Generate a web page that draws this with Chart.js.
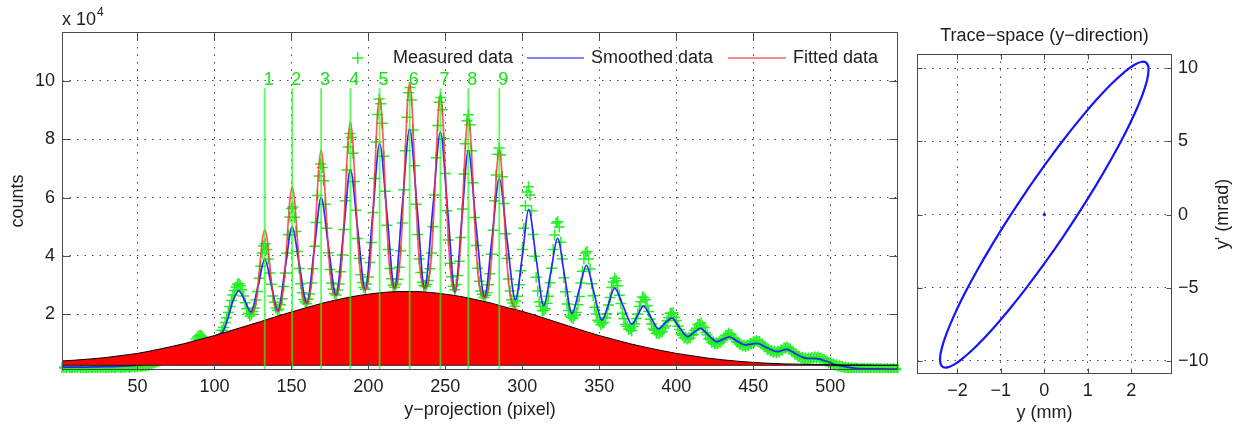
<!DOCTYPE html>
<html><head><meta charset="utf-8">
<script src="https://cdn.jsdelivr.net/npm/chart.js@4.4.1/dist/chart.umd.min.js"></script>
<style>
html,body{margin:0;padding:0;background:#fff;width:1250px;height:428px;overflow:hidden}
#c1{position:absolute;left:0;top:0}
#c2{position:absolute;left:905px;top:0}
</style></head><body>
<canvas id="c1" width="905" height="428"></canvas>
<canvas id="c2" width="345" height="428"></canvas>
<script>
// ---------------- DATA (left panel: y-projection, counts in units of 1e4) ----------------
const measuredStart = 1; // first pixel of the measured projection
const measured = [
 // 1-57
 0.17,0.19,0.16,0.18,0.2,0.17,0.15,0.18,0.19,0.16,
 0.18,0.2,0.17,0.16,0.19,0.18,0.15,0.17,0.2,0.18,
 0.16,0.19,0.17,0.18,0.2,0.16,0.18,0.19,0.17,0.15,
 0.18,0.2,0.17,0.19,0.16,0.18,0.2,0.19,0.17,0.18,
 0.2,0.18,0.21,0.19,0.17,0.2,0.22,0.19,0.21,0.2,
 0.23,0.21,0.22,0.24,0.23,0.25,0.24,
 // 58-87
 0.27,0.3,0.32,0.34,0.36,0.38,0.4,0.42,0.44,0.47,
 0.5,0.52,0.55,0.57,0.6,0.62,0.64,0.66,0.68,0.7,
 0.72,0.74,0.76,0.78,0.8,0.82,0.84,0.86,0.9,0.95,
 // 88-104
 1.15,1.22,1.27,1.28,1.24,1.18,1.06,1.0,0.98,1.0,1.03,1.06,1.08,1.1,1.13,1.17,1.28,
 // 105-123
 1.45,1.55,1.72,1.88,2.06,2.27,2.47,2.66,2.82,2.94,3.03,3.06,2.98,2.84,2.63,2.4,2.19,2.03,1.94,
 // 124-141
 2.0,2.1,2.22,2.49,2.78,3.24,3.65,4.1,4.34,4.42,4.22,3.9,3.42,3.03,2.63,2.41,2.22,2.13,
 // 142-160
 2.18,2.33,2.53,2.95,3.42,4.1,4.73,5.34,5.63,5.68,5.33,4.84,4.15,3.57,3.05,2.74,2.5,2.42,2.36,
 // 161-179
 2.52,2.7,3.07,3.56,4.33,5.15,6.07,6.74,7.15,7.03,6.58,5.77,4.95,4.11,3.54,3.07,2.86,2.71,2.66,
 // 180-198
 2.83,3.04,3.46,4.03,4.91,5.89,6.95,7.74,8.2,8.06,7.52,6.55,5.57,4.6,3.91,3.36,3.09,2.92,2.86,
 // 199-217
 3.04,3.28,3.78,4.46,5.49,6.66,7.91,8.85,9.38,9.22,8.55,7.42,6.22,5.05,4.22,3.57,3.22,3.0,2.93,
 // 218-236
 3.03,3.2,3.61,4.18,5.13,6.27,7.61,8.76,9.6,9.78,9.35,8.32,7.09,5.77,4.74,3.9,3.43,3.1,2.98,
 // 237-256
 2.95,3.02,3.16,3.56,4.1,5.0,6.09,7.37,8.47,9.27,9.43,9.01,8.02,6.83,5.55,4.55,3.75,3.29,2.96,2.84,
 // 257-275
 3.02,3.33,3.82,4.63,5.61,6.81,7.85,8.64,8.84,8.5,7.61,6.51,5.32,4.36,3.58,3.13,2.8,2.69,2.58,
 // 276-295
 2.65,2.74,3.01,3.39,4.06,4.88,5.89,6.78,7.49,7.7,7.46,6.72,5.8,4.76,3.91,3.21,2.8,2.5,2.39,2.28,
 // 296-313
 2.46,2.62,3.01,3.49,4.22,4.95,5.72,6.19,6.37,6.09,5.55,4.74,3.99,3.27,2.8,2.43,2.27,2.12,
 // 314-332
 2.14,2.19,2.38,2.62,3.08,3.58,4.22,4.72,5.13,5.17,4.99,4.47,3.9,3.25,2.77,2.35,2.13,1.94,1.9,
 // 333-351
 1.86,1.96,2.06,2.33,2.61,3.07,3.48,3.9,4.1,4.15,3.9,3.55,3.05,2.64,2.24,2.01,1.8,1.74,1.64,
 // 352-371
 1.7,1.72,1.88,2.02,2.32,2.58,2.92,3.11,3.24,3.15,2.98,2.65,2.37,2.04,1.85,1.65,1.59,1.49,1.5,1.44,
 // 372-388
 1.58,1.67,1.86,2.01,2.27,2.43,2.59,2.57,2.5,2.29,2.1,1.83,1.67,1.5,1.45,1.35,1.36,
 // 389-407
 1.33,1.39,1.4,1.53,1.6,1.78,1.88,2.04,2.04,2.05,1.9,1.79,1.59,1.48,1.33,1.28,1.19,1.21,1.15,
 // 408-426
 1.2,1.19,1.28,1.31,1.45,1.52,1.65,1.66,1.7,1.6,1.54,1.38,1.3,1.16,1.13,1.04,1.06,1.0,1.02,
 // 427-444
 1.0,1.06,1.05,1.13,1.16,1.27,1.27,1.35,1.3,1.3,1.2,1.17,1.06,1.04,0.97,0.97,0.92,0.94,
 // 445-465
 0.9,0.95,0.93,1.0,0.99,1.06,1.05,1.1,1.06,1.07,0.99,0.98,0.89,0.88,0.8,0.81,0.74,0.76,0.7,0.73,0.68,
 // 466-485
 0.73,0.71,0.78,0.78,0.85,0.84,0.88,0.82,0.82,0.73,0.72,0.63,0.63,0.55,0.56,0.5,0.52,0.47,0.5,0.46,
 // 486-510
 0.5,0.47,0.52,0.49,0.54,0.5,0.54,0.49,0.5,0.45,0.46,0.4,0.4,0.34,0.35,0.29,0.3,0.25,0.27,0.22,0.24,0.2,0.21,0.17,0.19,
 // 511-544
 0.16,0.18,0.14,0.17,0.13,0.16,0.14,0.15,0.12,0.15,
 0.13,0.15,0.12,0.14,0.13,0.15,0.12,0.14,0.11,0.14,
 0.13,0.12,0.14,0.11,0.13,0.12,0.14,0.11,0.13,0.12,
 0.14,0.12,0.11,0.13
];

// smoothed curve: [pixel, counts]
const smoothed = [
 [1,0.19],[12,0.19],[25,0.2],[40,0.22],[55,0.3],[70,0.55],[85,0.95],[95,1.15],[103,1.3],[106,1.46],[109,1.9],[112,2.45],
 [115.8,2.8],[119.5,2.5],[123.7,2.08],[128.5,3.0],[132.7,3.88],[137,3.0],[141.2,2.12],[146,3.6],[150.5,5.0],[155,3.75],
 [160,2.38],[165,4.3],[169.3,6.0],[174,4.35],[179,2.66],[184,4.9],[188.3,6.95],[193,4.95],[198,2.83],[202.8,5.4],
 [207.3,7.85],[212,5.5],[217,2.89],[222,5.7],[226.8,8.35],[231.6,5.7],[236.5,2.89],[241.8,5.6],[246.8,8.25],[251.6,5.5],
 [256.3,2.75],[260.6,5.2],[264.9,7.62],[270,5.0],[275.5,2.6],[280.3,4.6],[285,6.65],[290.2,4.5],[295.5,2.5],[300,4.0],
 [304.1,5.6],[309,3.9],[313.9,2.3],[318.5,3.45],[322.9,4.6],[327.5,3.3],[332.2,2.03],[337,2.85],[341.6,3.68],[346.5,2.75],
 [351.7,1.8],[356,2.35],[359.9,2.9],[365.5,2.28],[371.2,1.66],[375,1.98],[378.6,2.28],[383.5,1.9],[388.5,1.5],[393,1.72],
 [397.2,1.87],[402,1.55],[407.5,1.23],[411.5,1.38],[415.6,1.52],[421,1.28],[426.4,1.06],[430.5,1.15],[434.5,1.23],
 [439.5,1.08],[444.8,0.95],[448.5,0.98],[452.4,1.0],[459,0.85],[465.4,0.72],[471.9,0.8],[478,0.63],[485,0.49],[491,0.48],
 [498,0.38],[504,0.26],[510,0.2],[517,0.15],[530,0.13],[544,0.12]
];

// fitted multi-peak curve: [pixel, counts]
const fitted = [
 [123,2.0],[125.2,2.1],[126.7,2.3],[128.2,2.95],[129.7,3.8],[131.2,4.58],[132.7,4.9],[134.2,4.6],[135.7,3.85],[137.2,3.02],[138.7,2.42],[140.2,2.14],[141.5,2.1],
 [143,2.29],[144.5,2.76],[146,3.63],[147.5,4.82],[149,5.91],[150.5,6.37],[152,5.94],[153.5,4.89],[155,3.74],[156.5,2.91],[158,2.47],[160,2.36],
 [161.8,2.62],[163.3,3.19],[164.8,4.26],[166.3,5.71],[167.8,7.05],[169.3,7.62],[170.8,7.08],[172.3,5.78],[173.8,4.37],[175.3,3.34],[176.8,2.8],[179,2.64],
 [180.8,2.9],[182.3,3.56],[183.8,4.78],[185.3,6.43],[186.8,7.96],[188.3,8.59],[189.8,7.98],[191.3,6.48],[192.8,4.86],[194.3,3.67],[195.8,3.04],[198,2.84],
 [199.8,3.12],[201.3,3.85],[202.8,5.21],[204.3,7.04],[205.8,8.74],[207.3,9.45],[208.8,8.76],[210.3,7.07],[211.8,5.26],[213.3,3.91],[214.8,3.2],[217,2.89],
 [219.3,3.24],[220.8,4.01],[222.3,5.44],[223.8,7.38],[225.3,9.19],[226.8,9.93],[228.3,9.19],[229.8,7.38],[231.3,5.44],[232.8,4.0],[234.3,3.23],[236.5,2.89],
 [239.3,3.19],[240.8,3.91],[242.3,5.27],[243.8,7.11],[245.3,8.83],[246.8,9.53],[248.3,8.81],[249.8,7.08],[251.3,5.22],[252.8,3.84],[254.3,3.1],[256.3,2.74],
 [257.4,3.03],[258.9,3.68],[260.4,4.9],[261.9,6.58],[263.4,8.12],[264.9,8.75],[266.4,8.1],[267.9,6.52],[269.4,4.82],[270.9,3.56],[272.4,2.88],[275.5,2.56],
 [277.5,2.75],[279,3.3],[280.5,4.34],[282,5.76],[283.5,7.07],[285,7.6],[286.5,7.03],[288,5.68],[289.5,4.22],[291,3.14],[292.5,2.55],[294,2.31],[296,2.18],[297,2.14]
];

// broad background component (red area): [pixel, counts]
const background = [
 [1,0.4],[10,0.43],[20,0.47],[30,0.52],[40,0.59],[50,0.66],[60,0.76],[70,0.87],[80,0.99],[90,1.13],[100,1.27],[110,1.43],
 [120,1.59],[130,1.75],[140,1.92],[150,2.08],[160,2.23],[170,2.38],[180,2.5],[190,2.61],[200,2.69],[210,2.75],[220,2.78],
 [230,2.78],[240,2.75],[250,2.69],[260,2.61],[270,2.5],[280,2.38],[290,2.23],[300,2.1],[310,1.94],[320,1.77],[330,1.6],
 [340,1.43],[350,1.27],[360,1.13],[370,0.99],[380,0.87],[390,0.76],[400,0.66],[410,0.58],[420,0.5],[430,0.44],[440,0.39],
 [450,0.35],[460,0.32],[470,0.3],[480,0.29],[490,0.28],[500,0.27],[510,0.26],[520,0.26],[530,0.25],[544,0.25]
];
const backgroundBase = 0.25;

const peakPos    = [132.7,150.5,169.3,188.3,207.3,226.8,246.8,264.9,285];
const peakLabels = ['1','2','3','4','5','6','7','8','9'];
const peakLineTop = 9.75;
const peakLabelY  = 10.05;

const xTicksLeft = [50,100,150,200,250,300,350,400,450,500];
const yTicksLeft = [2,4,6,8,10];
const xRangeLeft = [1, 544];
const yRangeLeft = [0.09, 11.68];

// ---------------- DATA (right panel: trace space ellipse) ----------------
const ellipseY  = [0,-0.417,-0.821,-1.2,-1.543,-1.839,-2.078,-2.255,-2.364,-2.4,-2.364,-2.255,-2.078,-1.839,-1.543,-1.2,-0.821,-0.417,
                   0,0.417,0.821,1.2,1.543,1.839,2.078,2.255,2.364,2.4,2.364,2.255,2.078,1.839,1.543,1.2,0.821,0.417,0];
const ellipseYp = [3.35,1.58,-0.24,-2.05,-3.8,-5.43,-6.9,-8.16,-9.17,-9.9,-10.33,-10.45,-10.25,-9.73,-8.93,-7.85,-6.53,-5.02,
                   -3.35,-1.58,0.24,2.05,3.8,5.43,6.9,8.16,9.17,9.9,10.33,10.45,10.25,9.73,8.93,7.85,6.53,5.02,3.35];
const centreY = [0], centreYp = [0];
const xTicksRight = [-2,-1,0,1,2];
const yTicksRight = [-10,-5,0,5,10];
const xRangeRight = [-2.93, 2.94];
const yRangeRight = [-10.89, 10.98];

// ---------------- STYLE ----------------
const FONT = "'Liberation Sans', Arial, Helvetica, sans-serif";
const TXT = '#1e1e1e';
const GREEN = '#22f022';
const BLUE = 'rgba(30,30,255,0.95)';
const RED = 'rgba(255,50,50,0.8)';
const GRID = { color: 'rgba(40,40,40,0.85)', lineWidth: 1, drawTicks: false };
const BORDER = { display: false, dash: [1.5, 6] };
const minusFmt = v => String(v).replace('-', '\u2212');
const toPts = arr => arr.map(p => ({ x: p[0], y: p[1] }));

function drawFrame(chart, tickLen) {
  const { ctx, chartArea: a, scales } = chart;
  ctx.save();
  ctx.strokeStyle = '#4a4a4a';
  ctx.lineWidth = 1;
  const L = Math.round(a.left) + 0.5, R = Math.round(a.right) - 0.5, T = Math.round(a.top) + 0.5, B = Math.round(a.bottom) - 0.5;
  ctx.strokeRect(L, T, R - L, B - T);
  ctx.beginPath();
  scales.x.ticks.forEach(t => {
    const px = Math.round(scales.x.getPixelForValue(t.value)) + 0.5;
    ctx.moveTo(px, B); ctx.lineTo(px, B - tickLen);
    ctx.moveTo(px, T); ctx.lineTo(px, T + tickLen);
  });
  scales.y.ticks.forEach(t => {
    const py = Math.round(scales.y.getPixelForValue(t.value)) + 0.5;
    ctx.moveTo(L, py); ctx.lineTo(L + tickLen, py);
    ctx.moveTo(R, py); ctx.lineTo(R - tickLen, py);
  });
  ctx.stroke();
  ctx.restore();
}

// ---------------- LEFT CHART ----------------
const leftDeco = {
  id: 'leftDeco',
  afterDraw(chart) {
    const { ctx, chartArea: a, scales } = chart;
    drawFrame(chart, 8);
    ctx.save();
    ctx.fillStyle = TXT;
    ctx.font = '18px ' + FONT;
    // y title
    ctx.save();
    ctx.translate(18, (a.top + a.bottom) / 2);
    ctx.rotate(-Math.PI / 2);
    ctx.textAlign = 'center'; ctx.textBaseline = 'middle';
    ctx.fillText('counts', 0, 0);
    ctx.restore();
    // x title
    ctx.textAlign = 'center'; ctx.textBaseline = 'middle';
    ctx.fillText('y\u2212projection (pixel)', (a.left + a.right) / 2, 410);
    // exponent label
    ctx.textAlign = 'left'; ctx.textBaseline = 'alphabetic';
    ctx.fillText('x 10', 62, 25);
    const w = ctx.measureText('x 10').width;
    ctx.font = '12px ' + FONT;
    ctx.fillText('4', 62 + w + 1, 16);
    // peak numbers
    ctx.font = '18px ' + FONT;
    ctx.fillStyle = '#12e812';
    ctx.textAlign = 'left'; ctx.textBaseline = 'middle';
    peakPos.forEach((p, i) => {
      ctx.fillText(peakLabels[i], scales.x.getPixelForValue(p) - 1, scales.y.getPixelForValue(peakLabelY));
    });
    // legend
    const ly = 58;
    ctx.strokeStyle = GREEN; ctx.lineWidth = 1.5;
    ctx.beginPath();
    ctx.moveTo(352, ly); ctx.lineTo(363.5, ly);
    ctx.moveTo(357.7, ly - 5.7); ctx.lineTo(357.7, ly + 5.7);
    ctx.stroke();
    ctx.fillStyle = TXT;
    ctx.fillText('Measured data', 393, ly);
    ctx.strokeStyle = 'rgba(70,70,255,0.9)'; ctx.lineWidth = 1.6;
    ctx.beginPath(); ctx.moveTo(527, ly); ctx.lineTo(584, ly); ctx.stroke();
    ctx.fillText('Smoothed data', 591, ly);
    ctx.strokeStyle = 'rgba(255,80,80,0.9)'; ctx.lineWidth = 1.6;
    ctx.beginPath(); ctx.moveTo(728, ly); ctx.lineTo(786, ly); ctx.stroke();
    ctx.fillText('Fitted data', 793, ly);
    ctx.restore();
  }
};

const peakLineSets = peakPos.map(p => ({
  data: [{ x: p, y: yRangeLeft[0] }, { x: p, y: peakLineTop }],
  showLine: true, borderColor: 'rgba(20,255,20,0.7)', borderWidth: 1.8,
  pointRadius: 0, order: 2
}));

new Chart(document.getElementById('c1'), {
  type: 'scatter',
  data: {
    datasets: [
      { label: 'Measured data', data: measured.map((v, i) => ({ x: measuredStart + i, y: v })),
        pointStyle: 'cross', pointRadius: 5.5, pointBorderWidth: 1.5, clip: 3,
        pointBorderColor: GREEN, borderColor: GREEN, backgroundColor: GREEN, showLine: false, order: 10 },
      { label: 'Smoothed data', data: toPts(smoothed), showLine: true, borderColor: BLUE, borderWidth: 1.7,
        pointRadius: 0, cubicInterpolationMode: 'monotone', order: 9 },
      { label: 'Background', data: toPts(background), showLine: true, borderColor: '#000', borderWidth: 1,
        backgroundColor: '#ff0000', fill: { value: backgroundBase }, pointRadius: 0,
        cubicInterpolationMode: 'monotone', order: 8 },
      { label: 'Base', data: [{ x: xRangeLeft[0], y: backgroundBase }, { x: xRangeLeft[1], y: backgroundBase }],
        showLine: true, borderColor: 'rgba(0,0,0,0.8)', borderWidth: 1, pointRadius: 0, order: 7 },
      { label: 'Fitted data', data: toPts(fitted), showLine: true, borderColor: RED, borderWidth: 1.7,
        pointRadius: 0, cubicInterpolationMode: 'monotone', order: 6 },
      ...peakLineSets
    ]
  },
  options: {
    responsive: false, animation: false, devicePixelRatio: 1,
    layout: { padding: { top: 32, right: 7, left: 0, bottom: 0 } },
    plugins: { legend: { display: false }, tooltip: { enabled: false } },
    scales: {
      x: {
        type: 'linear', min: xRangeLeft[0], max: xRangeLeft[1],
        afterBuildTicks: s => { s.ticks = xTicksLeft.map(v => ({ value: v })); },
        afterFit: s => { s.height = 58; },
        grid: GRID, border: BORDER,
        ticks: { font: { family: FONT, size: 18 }, color: TXT, padding: 6, maxRotation: 0, autoSkip: false }
      },
      y: {
        type: 'linear', min: yRangeLeft[0], max: yRangeLeft[1],
        afterBuildTicks: s => { s.ticks = yTicksLeft.map(v => ({ value: v })); },
        afterFit: s => { s.width = 62; },
        grid: GRID, border: BORDER,
        ticks: { font: { family: FONT, size: 18 }, color: TXT, padding: 7, autoSkip: false }
      }
    }
  },
  plugins: [leftDeco]
});

// ---------------- RIGHT CHART ----------------
const rightDeco = {
  id: 'rightDeco',
  afterDraw(chart) {
    const { ctx, chartArea: a } = chart;
    drawFrame(chart, 5);
    ctx.save();
    ctx.fillStyle = TXT;
    ctx.font = '18px ' + FONT;
    ctx.textAlign = 'center'; ctx.textBaseline = 'middle';
    const cx = (a.left + a.right) / 2;
    ctx.fillText('Trace\u2212space (y\u2212direction)', cx, 36);
    ctx.fillText('y (mm)', cx, 413);
    ctx.translate(318, (a.top + a.bottom) / 2);
    ctx.rotate(-Math.PI / 2);
    ctx.fillText("y' (mrad)", 0, 0);
    ctx.restore();
  }
};

new Chart(document.getElementById('c2'), {
  type: 'scatter',
  data: {
    datasets: [
      { label: 'Ellipse', data: ellipseY.map((v, i) => ({ x: v, y: ellipseYp[i] })), showLine: true,
        borderColor: '#1414ff', borderWidth: 2.2, pointRadius: 0, tension: 0.4 },
      { label: 'Centre', data: centreY.map((v, i) => ({ x: v, y: centreYp[i] })), pointRadius: 1.2,
        pointStyle: 'circle', backgroundColor: '#1414ff', borderColor: '#1414ff' }
    ]
  },
  options: {
    responsive: false, animation: false, devicePixelRatio: 1,
    layout: { padding: { top: 54, right: 0, left: 12, bottom: 0 } },
    plugins: { legend: { display: false }, tooltip: { enabled: false } },
    scales: {
      x: {
        type: 'linear', min: xRangeRight[0], max: xRangeRight[1],
        afterBuildTicks: s => { s.ticks = xTicksRight.map(v => ({ value: v })); },
        afterFit: s => { s.height = 54; },
        grid: GRID, border: BORDER,
        ticks: { font: { family: FONT, size: 18 }, color: TXT, padding: 6, maxRotation: 0, autoSkip: false, callback: minusFmt }
      },
      y: {
        type: 'linear', position: 'right', min: yRangeRight[0], max: yRangeRight[1],
        afterBuildTicks: s => { s.ticks = yTicksRight.map(v => ({ value: v })); },
        afterFit: s => { s.width = 78; },
        grid: GRID, border: BORDER,
        ticks: { font: { family: FONT, size: 18 }, color: TXT, padding: 6, autoSkip: false, callback: minusFmt }
      }
    }
  },
  plugins: [rightDeco]
});
</script>
</body></html>
